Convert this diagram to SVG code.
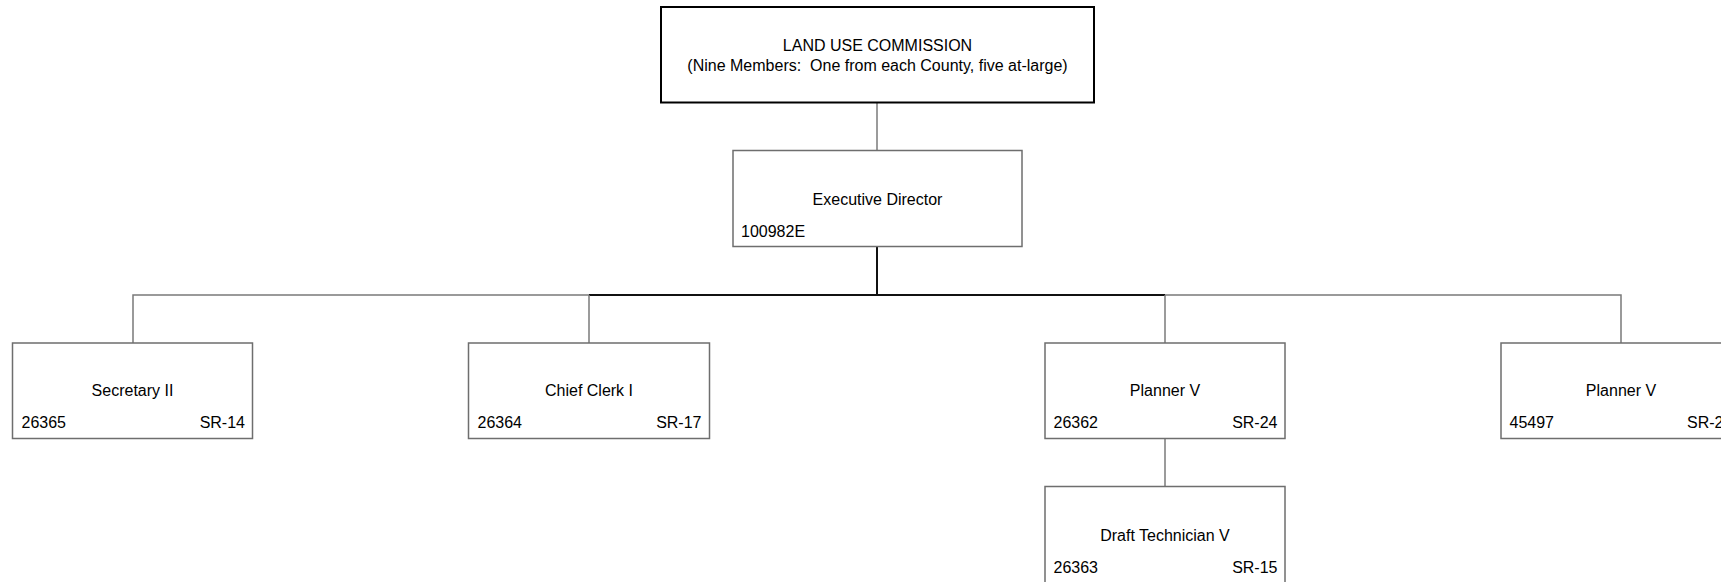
<svg xmlns="http://www.w3.org/2000/svg" width="1721" height="582" viewBox="0 0 1721 582">
  <style>
    .box { fill: #ffffff; stroke: #6e6e6e; stroke-width: 1.5; }
    .board { fill: #ffffff; stroke: #000000; stroke-width: 2; }
    .lbl { font-family: "Liberation Sans", Arial, sans-serif; font-size: 16px; fill: #000000; white-space: pre; }
    .mid { text-anchor: middle; }
    .end { text-anchor: end; }
    .thin { stroke: #7a7a7a; stroke-width: 1.5; fill: none; }
    .bold { stroke: #111111; stroke-width: 2; fill: none; }
  </style>
  <rect width="1721" height="582" fill="#ffffff"/>

  <!-- reporting lines -->
  <g id="connectors">
    <line class="thin" x1="877" y1="102.5" x2="877" y2="150.5"/>
    <line class="bold" x1="877" y1="246.5" x2="877" y2="295"/>
    <line class="bold" x1="589" y1="295" x2="1165" y2="295"/>
    <polyline class="thin" points="133,343 133,295 589,295"/>
    <polyline class="thin" points="1165,295 1621,295 1621,343"/>
    <line class="thin" x1="589" y1="295" x2="589" y2="343"/>
    <line class="thin" x1="1165" y1="295" x2="1165" y2="343"/>
    <line class="thin" x1="1165" y1="438.5" x2="1165" y2="486.5"/>
  </g>

  <g id="commission">
    <rect class="board" x="661" y="7" width="433" height="95.5"/>
    <text class="lbl mid" x="877.5" y="51">LAND USE COMMISSION</text>
    <text class="lbl mid" x="877.5" y="71" xml:space="preserve">(Nine Members:  One from each County, five at-large)</text>
  </g>

  <g id="executive-director">
    <rect class="box" x="733" y="150.5" width="289" height="96"/>
    <text class="lbl mid" x="877.5" y="205">Executive Director</text>
    <text class="lbl" x="741" y="236.5">100982E</text>
  </g>

  <g id="secretary-ii">
    <rect class="box" x="12.5" y="343" width="240" height="95.5"/>
    <text class="lbl mid" x="132.5" y="396">Secretary II</text>
    <text class="lbl" x="21.5" y="428">26365</text>
    <text class="lbl end" x="245" y="428">SR-14</text>
  </g>

  <g id="chief-clerk-i">
    <rect class="box" x="468.5" y="343" width="241" height="95.5"/>
    <text class="lbl mid" x="589" y="396">Chief Clerk I</text>
    <text class="lbl" x="477.5" y="428">26364</text>
    <text class="lbl end" x="701.5" y="428">SR-17</text>
  </g>

  <g id="planner-v-26362">
    <rect class="box" x="1045" y="343" width="240" height="95.5"/>
    <text class="lbl mid" x="1165" y="396">Planner V</text>
    <text class="lbl" x="1053.5" y="428">26362</text>
    <text class="lbl end" x="1277.5" y="428">SR-24</text>
  </g>

  <g id="draft-technician-v">
    <rect class="box" x="1045" y="486.5" width="240" height="97"/>
    <text class="lbl mid" x="1165" y="540.5">Draft Technician V</text>
    <text class="lbl" x="1053.5" y="572.5">26363</text>
    <text class="lbl end" x="1277.5" y="572.5">SR-15</text>
  </g>

  <g id="planner-v-45497">
    <rect class="box" x="1501" y="343" width="260" height="95.5"/>
    <text class="lbl mid" x="1621" y="396">Planner V</text>
    <text class="lbl" x="1509.5" y="428">45497</text>
    <text class="lbl" x="1687" y="428">SR-24</text>
  </g>
</svg>
